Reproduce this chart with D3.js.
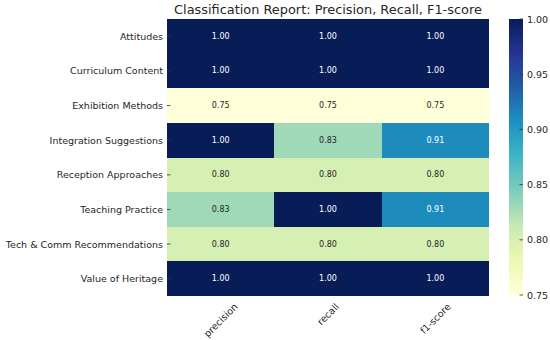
<!DOCTYPE html>
<html>
<head>
<meta charset="utf-8">
<script src="https://cdn.jsdelivr.net/npm/d3@7"></script>
<style>
  body { margin: 0; background: #fff; }
  svg { display: block; font-family: "DejaVu Sans", sans-serif; }
</style>
</head>
<body>
<svg id="chart" width="550" height="340"></svg>
<script>
// data
var categories = [
  'Attitudes',
  'Curriculum Content',
  'Exhibition Methods',
  'Integration Suggestions',
  'Reception Approaches',
  'Teaching Practice',
  'Tech & Comm Recommendations',
  'Value of Heritage'
];
var metrics = ['precision', 'recall', 'f1-score'];
var precision = [1.00, 1.00, 0.75, 1.00, 0.80, 0.83, 0.80, 1.00];
var recall    = [1.00, 1.00, 0.75, 0.83, 0.80, 1.00, 0.80, 1.00];
var f1score   = [1.00, 1.00, 0.75, 0.91, 0.80, 0.91, 0.80, 1.00];
var colorTicks = [0.75, 0.80, 0.85, 0.90, 0.95, 1.00];

var series = { 'precision': precision, 'recall': recall, 'f1-score': f1score };

var cells = [];
categories.forEach(function (cat, i) {
  metrics.forEach(function (m) {
    cells.push({ cat: cat, metric: m, value: series[m][i] });
  });
});

// SETUP
var svg = d3.select('#chart');
var textColor = '#262626';
var tickFont = 9.5;
var vmin = 0.75, vmax = 1.0;

var x = d3.scaleBand().domain(metrics).range([167, 489]);
var y = d3.scaleBand().domain(categories).range([19, 296]);

// matplotlib YlGnBu is a linear ramp through the 9 brewer colours
var color = d3.scaleLinear()
  .domain(d3.range(9).map(function (i) { return vmin + i * (vmax - vmin) / 8; }))
  .range(d3.schemeYlGnBu[9])
  .clamp(true);

function luminance(c) {
  var rgb = d3.rgb(c);
  var lin = [rgb.r, rgb.g, rgb.b].map(function (v) {
    v = v / 255;
    return v <= 0.03928 ? v / 12.92 : Math.pow((v + 0.055) / 1.055, 2.4);
  });
  return 0.2126 * lin[0] + 0.7152 * lin[1] + 0.0722 * lin[2];
}

/**
 * Heatmap cells
 */
svg.append('g')
  .attr('shape-rendering', 'crispEdges')
  .selectAll('rect')
  .data(cells)
  .enter()
  .append('rect')
  .attr('x', function (d) { return Math.round(x(d.metric)); })
  .attr('y', function (d) { return Math.round(y(d.cat)); })
  .attr('width', function (d) {
    return Math.round(x(d.metric) + x.bandwidth()) - Math.round(x(d.metric));
  })
  .attr('height', function (d) {
    return Math.round(y(d.cat) + y.bandwidth()) - Math.round(y(d.cat));
  })
  .attr('fill', function (d) { return color(d.value); });

svg.append('g')
  .selectAll('text')
  .data(cells)
  .enter()
  .append('text')
  .attr('x', function (d) { return x(d.metric) + x.bandwidth() / 2; })
  .attr('y', function (d) { return y(d.cat) + y.bandwidth() / 2; })
  .attr('text-anchor', 'middle')
  .attr('dominant-baseline', 'central')
  .style('font-size', '8px')
  .attr('fill', function (d) {
    return luminance(color(d.value)) > 0.408 ? textColor : '#ffffff';
  })
  .text(function (d) { return d3.format('.2f')(d.value); });

// ticks point inward, so they only show over light cells
var yAxis = svg.append('g');
categories.forEach(function (cat) {
  var cy = y(cat) + y.bandwidth() / 2;
  yAxis.append('line')
    .attr('x1', 167).attr('x2', 170.5)
    .attr('y1', cy).attr('y2', cy)
    .attr('stroke', '#333').attr('stroke-width', 0.8);
  yAxis.append('text')
    .attr('x', 163)
    .attr('y', cy)
    .attr('text-anchor', 'end')
    .attr('dominant-baseline', 'central')
    .style('font-size', tickFont + 'px')
    .attr('fill', textColor)
    .text(cat);
});

var xAxis = svg.append('g');
metrics.forEach(function (m) {
  var cx = x(m) + x.bandwidth() / 2;
  var label = xAxis.append('text')
    .attr('text-anchor', 'middle')
    .attr('dominant-baseline', 'central')
    .style('font-size', tickFont + 'px')
    .attr('fill', textColor)
    .text(m);
  var w = label.node().getComputedTextLength();
  var h = tickFont * 1.16;
  var boxH = (w + h) * Math.SQRT1_2;
  label.attr('transform', 'translate(' + cx + ',' + (301 + boxH / 2) + ') rotate(-45)');
});

/**
 * Title
 */
svg.append('text')
  .attr('x', (167 + 489) / 2)
  .attr('y', 14)
  .attr('text-anchor', 'middle')
  .style('font-size', '12.9px')
  .attr('fill', textColor)
  .text('Classification Report: Precision, Recall, F1-score');

/**
 * Colour bar
 */
var cbY = d3.scaleLinear().domain([vmin, vmax]).range([295, 19]);
var grad = svg.append('defs').append('linearGradient')
  .attr('id', 'cbar')
  .attr('x1', 0).attr('y1', 1).attr('x2', 0).attr('y2', 0);
d3.range(0, 1.0001, 0.125).forEach(function (t) {
  grad.append('stop')
    .attr('offset', t)
    .attr('stop-color', color(vmin + t * (vmax - vmin)));
});
svg.append('rect')
  .attr('x', 509)
  .attr('y', cbY(vmax))
  .attr('width', 14)
  .attr('height', cbY(vmin) - cbY(vmax))
  .attr('fill', 'url(#cbar)');

var cbAxis = svg.append('g');
colorTicks.forEach(function (t) {
  cbAxis.append('line')
    .attr('x1', 519.5).attr('x2', 523)
    .attr('y1', cbY(t)).attr('y2', cbY(t))
    .attr('stroke', '#333').attr('stroke-width', 0.8);
  cbAxis.append('text')
    .attr('x', 527)
    .attr('y', cbY(t))
    .attr('dominant-baseline', 'central')
    .style('font-size', tickFont + 'px')
    .attr('fill', textColor)
    .text(d3.format('.2f')(t));
});
</script>
</body>
</html>
